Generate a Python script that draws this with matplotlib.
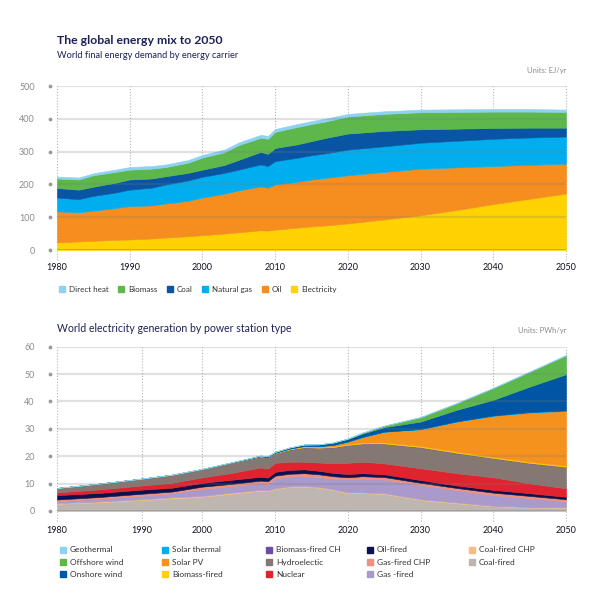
import numpy as np
import matplotlib
matplotlib.use('Agg')
import matplotlib.pyplot as plt
from matplotlib.patches import Patch

plt.rcParams['font.family'] = ['Lato', 'DejaVu Sans']

# ---- world final energy demand by carrier (EJ/yr) ----
years_fe = [1980, 1983, 1985, 1988, 1990, 1993, 1995, 1998, 2000, 2003, 2005, 2008,
            2009, 2010, 2013, 2015, 2017, 2020, 2025, 2030, 2035, 2040, 2045, 2050]
electricity = [23, 26, 28, 31, 32, 35, 38, 42, 45, 50, 54, 60,
               59, 62, 68, 72, 75, 81, 93, 106, 122, 140, 156, 172]
oil = [95, 89, 92, 97, 102, 101, 104, 108, 115, 122, 128, 134,
       131, 138, 140, 143, 145, 147, 145, 142, 130, 116, 104, 91]
natural_gas = [42, 40, 45, 47, 50, 54, 58, 62, 63, 63, 63, 67,
               66, 71, 73, 74, 75, 78, 78, 79, 81, 83, 83, 83]
coal = [29, 29, 28, 30, 31, 28, 25, 23, 22, 24, 30, 38,
        37, 40, 41, 43, 47, 49, 47, 41, 37, 33, 30, 27]
biomass = [29, 31, 35, 33, 30, 30, 28, 31, 37, 39, 45, 43,
           46, 49, 53, 52, 50, 52, 52, 52, 51, 50, 49, 48]
direct_heat = [6, 6, 6, 7, 8, 8, 8, 8, 8, 8, 8, 9,
               9, 9, 9, 9, 9, 8, 8, 8, 8, 8, 8, 7]

fe_labels = ['Direct heat', 'Biomass', 'Coal', 'Natural gas', 'Oil', 'Electricity']
fe_colors = ['#8ed2f3', '#5db74b', '#0a55a3', '#00aeef', '#f58d1f', '#ffd200']

# ---- world electricity generation by power station type (PWh/yr) ----
years_el = [1980, 1985, 1990, 1995, 2000, 2004, 2008, 2009, 2010, 2012, 2014,
            2016, 2018, 2020, 2022, 2025, 2030, 2035, 2040, 2045, 2050]
coal_fired = [2.6, 3.2, 4.0, 4.6, 5.2, 6.3, 7.4, 7.3, 8.0, 8.7, 8.8,
              8.5, 7.6, 6.5, 6.5, 6.2, 4.0, 2.8, 1.7, 1.3, 1.2]
coal_chp = [0.3, 0.3, 0.3, 0.4, 0.3, 0.4, 0.3, 0.3, 0.3, 0.3, 0.3,
            0.3, 0.3, 0.3, 0.3, 0.3, 0.3, 0.3, 0.2, 0.2, 0.2]
gas_fired = [0.7, 1.0, 1.3, 1.5, 2.6, 2.4, 2.4, 2.3, 3.6, 3.6, 3.7,
             3.6, 3.9, 4.8, 5.0, 5.0, 5.2, 4.5, 3.9, 3.2, 2.1]
gas_chp = [0.6, 0.6, 0.7, 0.6, 0.8, 0.8, 1.0, 1.0, 1.0, 1.0, 1.0,
           1.0, 0.9, 0.7, 0.9, 0.9, 0.8, 0.8, 0.9, 0.8, 0.8]
oil_fired = [1.6, 1.5, 1.5, 1.4, 1.4, 1.5, 1.4, 1.3, 1.4, 1.4, 1.4,
             1.3, 1.2, 1.2, 1.1, 1.0, 1.0, 0.9, 1.0, 1.0, 0.9]
nuclear = [1.0, 1.3, 1.5, 1.8, 2.0, 2.5, 3.4, 3.3, 3.3, 3.0, 2.8,
           3.0, 3.6, 4.1, 4.2, 4.0, 4.3, 4.5, 4.6, 3.6, 3.1]
hydro = [1.5, 2.0, 2.4, 2.8, 2.9, 3.6, 3.9, 4.0, 3.4, 4.4, 5.2,
         5.3, 5.7, 6.4, 6.5, 7.1, 7.6, 7.3, 6.9, 7.3, 7.7]
biomass_ch = [0.05, 0.05, 0.05, 0.05, 0.05, 0.05, 0.05, 0.05, 0.08, 0.1, 0.1,
              0.1, 0.12, 0.12, 0.15, 0.15, 0.15, 0.15, 0.15, 0.15, 0.15]
biomass_fired = [0.05, 0.05, 0.08, 0.1, 0.1, 0.12, 0.15, 0.15, 0.18, 0.2, 0.25,
                 0.28, 0.3, 0.33, 0.35, 0.38, 0.4, 0.4, 0.4, 0.4, 0.4]
solar_pv = [0, 0, 0, 0, 0, 0, 0.02, 0.03, 0.04, 0.1, 0.2,
            0.3, 0.5, 0.9, 2.0, 3.9, 6.1, 11.0, 15.0, 18.0, 20.0]
solar_thermal = [0, 0, 0, 0, 0, 0, 0, 0, 0, 0, 0.01,
                 0.02, 0.03, 0.05, 0.06, 0.08, 0.1, 0.12, 0.15, 0.18, 0.2]
onshore_wind = [0, 0, 0, 0, 0.03, 0.1, 0.2, 0.25, 0.3, 0.4, 0.5,
                0.6, 0.8, 0.9, 1.2, 1.6, 2.7, 4.2, 5.7, 9.3, 13.2]
offshore_wind = [0, 0, 0, 0, 0, 0, 0, 0, 0, 0, 0.01,
                 0.02, 0.05, 0.15, 0.3, 0.5, 1.6, 2.4, 4.3, 5.4, 6.9]
geothermal = [0.02, 0.02, 0.03, 0.04, 0.05, 0.05, 0.06, 0.06, 0.07, 0.07, 0.08,
              0.08, 0.09, 0.1, 0.1, 0.11, 0.12, 0.13, 0.14, 0.15, 0.15]

el_series = [coal_fired, coal_chp, gas_fired, gas_chp, oil_fired, nuclear, hydro,
             biomass_ch, biomass_fired, solar_pv, solar_thermal, onshore_wind,
             offshore_wind, geothermal]
el_colors = ['#bdb6b1', '#f9bb7e', '#a99acb', '#f08f7a', '#0c1150', '#e0232e', '#857873',
             '#6a4e9f', '#ffd200', '#f5921e', '#00aeef', '#0055a4', '#5db74b', '#8ed2f3']
el_labels = ['Coal-fired', 'Coal-fired CHP', 'Gas -fired', 'Gas-fired CHP', 'Oil-fired',
             'Nuclear', 'Hydroelectic', 'Biomass-fired CH', 'Biomass-fired', 'Solar PV',
             'Solar thermal', 'Onshore wind', 'Offshore wind', 'Geothermal']

decades = [1980, 1990, 2000, 2010, 2020, 2030, 2040, 2050]
navy = '#1c2159'


def style_axes(ax, yticks, xpad):
    ax.set_xlim(1980, 2050)
    ax.set_ylim(0, yticks[-1])
    for s in ax.spines.values():
        s.set_visible(False)
    ax.set_xticks(decades)
    ax.set_yticks(yticks)
    ax.tick_params(axis='y', length=0, labelsize=6.5, labelcolor='#8c8c8c', pad=16)
    ax.tick_params(axis='x', length=0, labelsize=6.5, labelcolor='#111122', pad=xpad)
    for y in yticks[1:]:
        ax.axhline(y, color='#7a7a7a', alpha=0.22, lw=1.6, zorder=3)
    ax.axhline(0, color='#9a9a9a', lw=1.8, zorder=4)
    ax.vlines(decades, -0.06, 1, transform=ax.get_xaxis_transform(), colors='#b5b5b5',
              linestyles=(0, (1, 1.6)), lw=0.8, clip_on=False, zorder=0)
    ax.scatter([-0.013] * len(yticks), yticks, transform=ax.get_yaxis_transform(),
               s=3, color='#9a9a9a', clip_on=False, zorder=5)


def stack(ax, x, series, colors):
    polys = ax.stackplot(x, *series, colors=colors, zorder=2)
    for p, c in zip(polys, colors):
        p.set_edgecolor(c)
        p.set_linewidth(0.4)


fig = plt.figure(figsize=(6, 6.16), dpi=100)

# ---- top chart ----
ax1 = fig.add_axes([57 / 600, 1 - 250 / 616, 509 / 600, 164 / 616])
stack(ax1, years_fe, [electricity, oil, natural_gas, coal, biomass, direct_heat],
      fe_colors[::-1])
style_axes(ax1, [0, 100, 200, 300, 400, 500], 9)

fig.text(57 / 600, 1 - 41 / 616, 'The global energy mix to 2050', fontsize=8.8,
         fontweight='bold', color=navy, va='center')
fig.text(57 / 600, 1 - 55 / 616, 'World final energy demand by energy carrier',
         fontsize=6.7, color=navy, va='center')
fig.text(566 / 600, 1 - 70 / 616, 'Units: EJ/yr', fontsize=5.5, color='#8c8c8c',
         ha='right', va='center')

h1 = [Patch(color=c) for c in fe_colors]
fig.legend(h1, fe_labels, loc='upper left', bbox_to_anchor=(52 / 600, 1 - 279 / 616),
           ncol=6, frameon=False, fontsize=5.8, handlelength=0.75, handleheight=0.75,
           handletextpad=0.45, columnspacing=1.2, labelcolor='#333333')

# ---- bottom chart ----
ax2 = fig.add_axes([57 / 600, 1 - 511 / 616, 509 / 600, 164.3 / 616])


def fwd(x):
    return np.interp(x, [1970, 1980, 1990, 2000, 2060], [1970, 1980, 1991.65, 2000, 2060])


def inv(x):
    return np.interp(x, [1970, 1980, 1991.65, 2000, 2060], [1970, 1980, 1990, 2000, 2060])


ax2.set_xscale('function', functions=(fwd, inv))
stack(ax2, years_el, el_series, el_colors)
style_axes(ax2, [0, 10, 20, 30, 40, 50, 60], 11)

fig.text(57 / 600, 1 - 329 / 616, 'World electricity generation by power station type',
         fontsize=7.6, color=navy, va='center')
fig.text(566 / 600, 1 - 330 / 616, 'Units: PWh/yr', fontsize=5.5, color='#8c8c8c',
         ha='right', va='center')

# legend in the order of the reference (top of stack first), one block per column
order = list(range(len(el_labels)))[::-1]
col_x = [58, 160, 264, 365, 467]
for k, cx in enumerate(col_x):
    idx = order[k * 3:(k + 1) * 3]
    fig.legend([Patch(color=el_colors[i]) for i in idx], [el_labels[i] for i in idx],
               loc='upper left', bbox_to_anchor=((cx - 6) / 600, 1 - 539 / 616),
               ncol=1, frameon=False, fontsize=6.0, handlelength=0.75, handleheight=0.75,
               handletextpad=0.5, labelspacing=0.62, labelcolor='#333333')

fig.savefig('out.png', dpi=100)
